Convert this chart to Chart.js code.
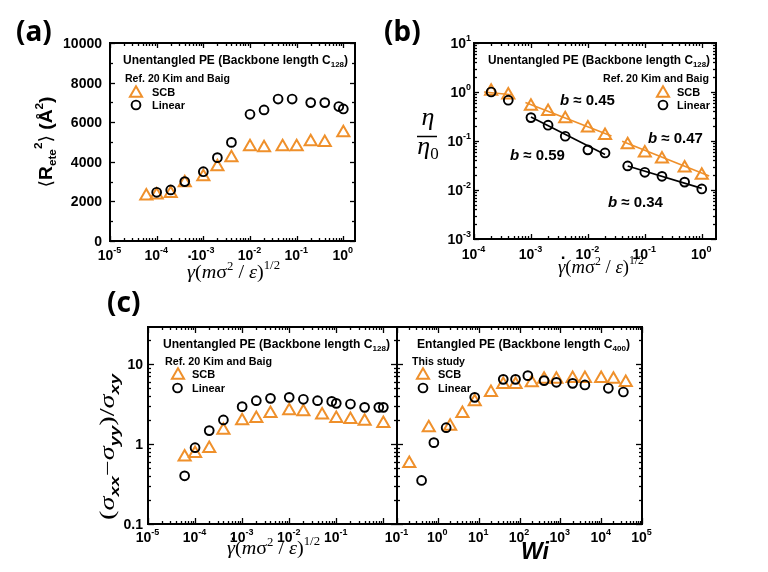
<!DOCTYPE html>
<html><head><meta charset="utf-8">
<script src="https://cdn.jsdelivr.net/npm/chart.js@4.4.1/dist/chart.umd.min.js"></script>
<style>
html,body{margin:0;padding:0;background:#fff}
#wrap{position:relative;width:768px;height:572px;overflow:hidden;background:#fff}
canvas{position:absolute;left:0;top:0}
</style>
</head><body>
<div id="wrap">
<canvas id="ca" width="768" height="572"></canvas>
<canvas id="cb" width="768" height="572"></canvas>
<canvas id="cc1" width="768" height="572"></canvas>
<canvas id="cc2" width="768" height="572"></canvas>
</div>
<script>
const SANS = "'Liberation Sans', Arial, Helvetica, sans-serif";
const SERIF = "'Liberation Serif', 'Times New Roman', serif";
const LABF = "'Noto Sans', 'Open Sans', " + SANS;
const ORANGE = '#EF902B';

// ---------- Panel (a): <Rete^2> vs shear rate ----------
const aRateSCB = [6e-5, 1e-4, 2e-4, 4e-4, 1e-3, 2e-3, 4e-3, 1e-2, 2e-2, 5e-2, 1e-1, 2e-1, 4e-1, 1];
const aRSCB    = [2270, 2320, 2400, 2940, 3240, 3750, 4200, 4760, 4710, 4760, 4760, 5010, 4980, 5470];
const aRateLin = [1e-4, 2e-4, 4e-4, 1e-3, 2e-3, 4e-3, 1e-2, 2e-2, 4e-2, 8e-2, 2e-1, 4e-1, 8e-1, 1];
const aRLin    = [2460, 2580, 3000, 3500, 4210, 4980, 6400, 6620, 7170, 7170, 6990, 6990, 6790, 6670];
const aXExps   = [-5, -4, -3, -2, -1, 0];
const aYTicks  = [0, 2000, 4000, 6000, 8000, 10000];

// ---------- Panel (b): eta/eta0 vs shear rate ----------
const bRateSCB = [2e-4, 4e-4, 1e-3, 2e-3, 4e-3, 1e-2, 2e-2, 5e-2, 1e-1, 2e-1, 5e-1, 1];
const bEtaSCB  = [1.03, 0.87, 0.51, 0.40, 0.285, 0.184, 0.13, 0.084, 0.057, 0.043, 0.028, 0.020];
const bRateLin = [2e-4, 4e-4, 1e-3, 2e-3, 4e-3, 1e-2, 2e-2, 5e-2, 1e-1, 2e-1, 5e-1, 1];
const bEtaLin  = [1.0, 0.68, 0.30, 0.21, 0.125, 0.066, 0.057, 0.031, 0.023, 0.019, 0.0145, 0.0105];
const bFitSCB0 = [[1.5e-4, 1.0], [4.6e-4, 0.88]];
const bFitSCB1 = [[8e-4, 0.61], [2.6e-2, 0.127]];
const bFitSCB2 = [[4e-2, 0.099], [1.35, 0.0193]];
const bFitLin1 = [[1e-3, 0.31], [2e-2, 0.053]];
const bFitLin2 = [[5e-2, 0.031], [1, 0.0108]];
const bSlopes  = ['0.45', '0.59', '0.47', '0.34'];
const bXExps   = [-4, -3, -2, -1, 0];
const bYExps   = [1, 0, -1, -2, -3];

// ---------- Panel (c) left: normal stress ratio vs shear rate ----------
const cRateSCB  = [6e-5, 1e-4, 2e-4, 4e-4, 1e-3, 2e-3, 4e-3, 1e-2, 2e-2, 5e-2, 1e-1, 2e-1, 4e-1, 1];
const cRatSCB   = [0.69, 0.76, 0.88, 1.49, 1.95, 2.09, 2.41, 2.60, 2.53, 2.30, 2.09, 2.02, 1.93, 1.80];
const cRateLin  = [6e-5, 1e-4, 2e-4, 4e-4, 1e-3, 2e-3, 4e-3, 1e-2, 2e-2, 4e-2, 8e-2, 1e-1, 2e-1, 4e-1, 8e-1, 1];
const cRatLin   = [0.40, 0.90, 1.47, 2.0, 2.93, 3.48, 3.72, 3.83, 3.62, 3.48, 3.41, 3.22, 3.16, 2.87, 2.87, 2.87];
const cXExpsL   = [-5, -4, -3, -2, -1];
const cYTicks   = [0.1, 1, 10];
const cYLabels  = ['0.1', '1', '10'];

// ---------- Panel (c) right: normal stress ratio vs Wi ----------
const cWiSCB    = [0.2, 0.6, 2, 4, 8, 20, 40, 80, 200, 400, 800, 2000, 4000, 10000, 20000, 40000];
const cRatSCB2  = [0.57, 1.60, 1.67, 2.41, 3.37, 4.41, 5.55, 5.55, 5.82, 6.46, 6.46, 6.6, 6.6, 6.6, 6.46, 5.89];
const cWiLin    = [0.4, 0.8, 1.6, 8, 40, 80, 160, 400, 800, 2000, 4000, 15000, 35000];
const cRatLin2  = [0.35, 1.04, 1.6, 3.83, 6.43, 6.43, 7.15, 6.2, 5.9, 5.73, 5.47, 4.97, 4.47];
const cXExpsR   = [-1, 0, 1, 2, 3, 4, 5];

// ---------- helpers ----------
function P(xs, ys) { return xs.map((x, i) => ({ x: x, y: ys[i] })); }
function S(pairs) { return pairs.map(p => ({ x: p[0], y: p[1] })); }
function scb(data) {
  return { data: data, showLine: false, pointStyle: 'triangle', pointRadius: 7,
    pointBorderColor: ORANGE, pointBackgroundColor: 'rgba(0,0,0,0)', pointBorderWidth: 2,
    borderColor: ORANGE, backgroundColor: 'rgba(0,0,0,0)', clip: false };
}
function lin(data) {
  return { data: data, showLine: false, pointStyle: 'circle', pointRadius: 4.4,
    pointBorderColor: '#000', pointBackgroundColor: 'rgba(0,0,0,0)', pointBorderWidth: 1.9,
    borderColor: '#000', backgroundColor: 'rgba(0,0,0,0)', clip: false };
}
function fit(data, color) {
  return { data: data, showLine: true, pointRadius: 0, borderColor: color, borderWidth: 1.6,
    backgroundColor: color, clip: false };
}
function ln(ctx, x1, y1, x2, y2) { ctx.beginPath(); ctx.moveTo(x1, y1); ctx.lineTo(x2, y2); ctx.stroke(); }
function logList(min, max) {
  const out = [];
  for (let d = Math.floor(Math.log10(min)) - 1; d <= Math.ceil(Math.log10(max)); d++)
    for (let m = 1; m < 10; m++) {
      const v = m * Math.pow(10, d);
      if (v >= min * 0.9999 && v <= max * 1.0001) out.push({ v: v, major: m === 1 });
    }
  return out;
}
function linList(min, max, step, majorEvery) {
  const out = [];
  for (let v = min; v <= max + 1e-9; v += step) out.push({ v: v, major: Math.round(v / step) % majorEvery === 0 });
  return out;
}
function frame(chart, xt, yt, sides, Lmaj, Lmin) {
  const ctx = chart.ctx, a = chart.chartArea, xs = chart.scales.x, ys = chart.scales.y;
  ctx.save(); ctx.strokeStyle = '#000'; ctx.lineWidth = 1.3;
  xt.forEach(t => {
    const x = Math.round(xs.getPixelForValue(t.v)) + 0.5, L = t.major ? Lmaj : Lmin;
    if (sides.b) ln(ctx, x, a.bottom, x, a.bottom - L);
    if (sides.t) ln(ctx, x, a.top, x, a.top + L);
  });
  yt.forEach(t => {
    const y = Math.round(ys.getPixelForValue(t.v)) + 0.5, L = t.major ? Lmaj : Lmin;
    if (sides.l) ln(ctx, a.left, y, a.left + L, y);
    if (sides.r) ln(ctx, a.right, y, a.right - L, y);
  });
  ctx.lineWidth = 2; ctx.strokeRect(a.left, a.top, a.right - a.left, a.bottom - a.top);
  ctx.restore();
}
function rich(ctx, x, y, segs, opt) {
  opt = opt || {};
  ctx.save();
  let w = 0;
  const ws = segs.map(s => { ctx.font = s.f; const m = ctx.measureText(s.t).width; w += m; return m; });
  const sx = opt.width ? opt.width / w : 1;
  ctx.translate(x, y);
  if (opt.rot) ctx.rotate(opt.rot);
  ctx.scale(sx, 1);
  let cx = opt.align === 'center' ? -w / 2 : (opt.align === 'right' ? -w : 0);
  ctx.textAlign = 'left'; ctx.textBaseline = 'alphabetic';
  segs.forEach((s, i) => { ctx.font = s.f; ctx.fillStyle = s.c || '#000'; ctx.fillText(s.t, cx, s.dy || 0); cx += ws[i]; });
  ctx.restore();
}
function expLab(ctx, x, base, e, align) {
  rich(ctx, x, base, [{ t: '10', f: 'bold 14px ' + SANS }, { t: String(e), f: 'bold 9px ' + SANS, dy: -7 }], { align: align });
}
function xExpLabels(chart, exps, base) {
  exps.forEach(e => expLab(chart.ctx, chart.scales.x.getPixelForValue(Math.pow(10, e)) - 0.5, base, e, 'center'));
}
function yExpLabels(chart, exps, right) {
  exps.forEach(e => expLab(chart.ctx, right, chart.scales.y.getPixelForValue(Math.pow(10, e)) + 5, e, 'right'));
}
function triIcon(ctx, cx, cy) {
  const r = 7; ctx.save(); ctx.strokeStyle = ORANGE; ctx.lineWidth = 2; ctx.beginPath();
  ctx.moveTo(cx, cy - 0.75 * r); ctx.lineTo(cx + 0.866 * r, cy + 0.75 * r); ctx.lineTo(cx - 0.866 * r, cy + 0.75 * r);
  ctx.closePath(); ctx.stroke(); ctx.restore();
}
function cirIcon(ctx, cx, cy) {
  ctx.save(); ctx.strokeStyle = '#000'; ctx.lineWidth = 1.9; ctx.beginPath(); ctx.arc(cx, cy, 4.4, 0, Math.PI * 2); ctx.stroke(); ctx.restore();
}
function txt(ctx, s, x, y, font, align) {
  ctx.save(); ctx.font = font; ctx.fillStyle = '#000'; ctx.textAlign = align || 'left'; ctx.textBaseline = 'alphabetic';
  ctx.fillText(s, x, y); ctx.restore();
}
function legendBlock(ctx, title, sub, ref, L) {
  rich(ctx, L.tx, L.ty + 4.3, [
    { t: title, f: 'bold 12px ' + SANS }, { t: sub, f: 'bold 8px ' + SANS, dy: 3 }, { t: ')', f: 'bold 12px ' + SANS }
  ], { width: L.tw });
  rich(ctx, L.rx, L.ry + 3.8, [{ t: ref, f: 'bold 10.5px ' + SANS }], { width: L.rw, align: L.ralign || 'left' });
  triIcon(ctx, L.ix1, L.iy1); cirIcon(ctx, L.ix2, L.iy2);
  txt(ctx, 'SCB', L.lx, L.iy1 + 4, 'bold 11px ' + SANS);
  txt(ctx, 'Linear', L.lx, L.iy2 + 4, 'bold 11px ' + SANS);
}
function rateTitle(ctx, x, base, w, dotX, dotY) {
  rich(ctx, x, base, [
    { t: 'γ', f: 'italic 19px ' + SERIF }, { t: '(', f: '19px ' + SERIF }, { t: 'm', f: 'italic 19px ' + SERIF },
    { t: 'σ', f: '19px ' + SERIF }, { t: '2', f: '12px ' + SERIF, dy: -8 }, { t: ' / ', f: '19px ' + SERIF },
    { t: 'ε', f: 'italic 19px ' + SERIF }, { t: ')', f: '19px ' + SERIF }, { t: '1/2', f: '12px ' + SERIF, dy: -9 }
  ], { width: w });
  txt(ctx, '.', dotX, dotY + 2, 'bold 17px ' + SANS, 'center');
}
function makeChart(id, area, xsc, ysc, datasets, before, after) {
  return new Chart(document.getElementById(id), {
    type: 'scatter',
    data: { datasets: datasets },
    options: {
      responsive: false, animation: false, events: [], devicePixelRatio: 1,
      layout: { padding: { left: area[0], top: area[1], right: 768 - area[2], bottom: 572 - area[3] } },
      plugins: { legend: { display: false }, tooltip: { enabled: false }, title: { display: false } },
      scales: {
        x: Object.assign({ display: false }, xsc),
        y: Object.assign({ display: false }, ysc)
      }
    },
    plugins: [{ id: 'decor', beforeDatasetsDraw: before, afterDraw: after }]
  });
}

// ---------- (a) ----------
const aX = { type: 'logarithmic', min: 1e-5, max: Math.pow(10, 0.25) };
const aY = { type: 'linear', min: 0, max: 10000 };
makeChart('ca', [110, 43, 355, 241], aX, aY,
  [lin(P(aRateLin, aRLin)), scb(P(aRateSCB, aRSCB))],
  function (chart) {
    frame(chart, logList(aX.min, aX.max), linList(0, 10000, 1000, 2), { b: 1, t: 1, l: 1, r: 1 }, 5, 3);
  },
  function (chart) {
    const ctx = chart.ctx;
    xExpLabels(chart, aXExps, 260);
    aYTicks.forEach(v => txt(ctx, String(v), 102, chart.scales.y.getPixelForValue(v) + 5, 'bold 14px ' + SANS, 'right'));
    legendBlock(ctx, 'Unentangled PE (Backbone length C', '128', 'Ref. 20 Kim and Baig',
      { tx: 123, ty: 60, tw: 225, rx: 125, ry: 78, rw: 105, ix1: 136, iy1: 91.5, ix2: 136, iy2: 105, lx: 152 });
    rateTitle(ctx, 187, 278, 93, 189.5, 256);
    rich(ctx, 52, 142, [
      { t: '⟨', f: '18px ' + "'DejaVu Sans', " + SANS }, { t: 'R', f: 'bold 18px ' + SANS },
      { t: 'ete', f: 'bold 11px ' + SANS, dy: 4 }, { t: '2', f: 'bold 11px ' + SANS, dy: -10 },
      { t: '⟩', f: '18px ' + "'DejaVu Sans', " + SANS }, { t: ' (Å', f: 'bold 18px ' + SANS },
      { t: '2', f: 'bold 11px ' + SANS, dy: -9 }, { t: ')', f: 'bold 18px ' + SANS }
    ], { rot: -Math.PI / 2, align: 'center', width: 91 });
    txt(ctx, '(a)', 16, 41, 'bold 28px ' + LABF);
  });

// ---------- (b) ----------
const bX = { type: 'logarithmic', min: 1e-4, max: Math.pow(10, 0.25) };
const bY = { type: 'logarithmic', min: 1e-3, max: 10 };
makeChart('cb', [474, 43, 716, 239], bX, bY,
  [lin(P(bRateLin, bEtaLin)), scb(P(bRateSCB, bEtaSCB)),
   fit(S(bFitSCB0), ORANGE), fit(S(bFitSCB1), ORANGE), fit(S(bFitSCB2), ORANGE),
   fit(S(bFitLin1), '#000'), fit(S(bFitLin2), '#000')],
  function (chart) {
    frame(chart, logList(bX.min, bX.max), logList(bY.min, bY.max), { b: 1, t: 1, l: 1, r: 1 }, 5, 3);
  },
  function (chart) {
    const ctx = chart.ctx;
    xExpLabels(chart, bXExps, 259);
    yExpLabels(chart, bYExps, 471);
    legendBlock(ctx, 'Unentangled PE (Backbone length C', '128', 'Ref. 20 Kim and Baig',
      { tx: 488, ty: 60, tw: 222, rx: 709, ry: 78, rw: 106, ralign: 'right', ix1: 663, iy1: 91.5, ix2: 663, iy2: 105, lx: 677 });
    const bPos = [[560, 100], [510, 155], [648, 138], [608, 202]];
    bSlopes.forEach((s, i) => rich(ctx, bPos[i][0], bPos[i][1] + 5.4, [
      { t: 'b', f: 'bold italic 15px ' + SANS }, { t: ' ≈ ' + s, f: 'bold 15px ' + SANS }]));
    rateTitle(ctx, 558, 273, 86, 563, 257);
    rich(ctx, 428, 125, [{ t: 'η', f: 'italic 26px ' + SERIF }], { align: 'center' });
    ctx.save(); ctx.strokeStyle = '#000'; ctx.lineWidth = 1.5; ln(ctx, 417, 136.5, 437, 136.5); ctx.restore();
    rich(ctx, 428, 154, [{ t: 'η', f: 'italic 26px ' + SERIF }, { t: '0', f: '17px ' + SERIF, dy: 5 }], { align: 'center' });
    txt(ctx, '(b)', 384, 41, 'bold 28px ' + LABF);
  });

// ---------- (c) left ----------
const cY = { type: 'logarithmic', min: 0.1, max: Math.pow(10, 1.4625) };
const cXL = { type: 'logarithmic', min: 1e-5, max: Math.pow(10, 0.29) };
makeChart('cc1', [148, 327, 397, 524], cXL, cY,
  [lin(P(cRateLin, cRatLin)), scb(P(cRateSCB, cRatSCB))],
  function (chart) {
    frame(chart, logList(cXL.min, cXL.max), logList(cY.min, cY.max), { b: 1, t: 1, l: 1, r: 1 }, 6, 3);
  },
  function (chart) {
    const ctx = chart.ctx;
    xExpLabels(chart, cXExpsL, 542);
    cYTicks.forEach((v, i) => txt(ctx, cYLabels[i], 143, chart.scales.y.getPixelForValue(v) + 5, 'bold 14px ' + SANS, 'right'));
    legendBlock(ctx, 'Unentangled PE (Backbone length C', '128', 'Ref. 20 Kim and Baig',
      { tx: 163, ty: 343.5, tw: 227, rx: 165, ry: 361.5, rw: 107, ix1: 178, iy1: 373.5, ix2: 177.5, iy2: 388, lx: 192 });
    rateTitle(ctx, 227, 554, 93, 233, 538);
    const sub = 'bold italic 13px ' + SANS, big = '20px ' + SERIF, bigI = 'italic 20px ' + SERIF;
    rich(ctx, 114, 447, [
      { t: '(', f: big }, { t: 'σ', f: bigI }, { t: 'xx', f: sub, dy: 5 }, { t: '−', f: big },
      { t: 'σ', f: bigI }, { t: 'yy', f: sub, dy: 5 }, { t: ')/', f: big }, { t: 'σ', f: bigI }, { t: 'xy', f: sub, dy: 5 }
    ], { rot: -Math.PI / 2, align: 'center', width: 146 });
    txt(ctx, '(c)', 107, 312, 'bold 28px ' + LABF);
  });

// ---------- (c) right ----------
const cXR = { type: 'logarithmic', min: 0.1, max: 1e5 };
makeChart('cc2', [397, 327, 642, 524], cXR, cY,
  [lin(P(cWiLin, cRatLin2)), scb(P(cWiSCB, cRatSCB2))],
  function (chart) {
    frame(chart, logList(cXR.min, cXR.max), logList(cY.min, cY.max), { b: 1, t: 1, l: 1, r: 1 }, 6, 3);
  },
  function (chart) {
    const ctx = chart.ctx;
    xExpLabels(chart, cXExpsR, 542);
    legendBlock(ctx, 'Entangled PE (Backbone length C', '400', 'This study',
      { tx: 417, ty: 343.5, tw: 213, rx: 412, ry: 361.5, rw: 53, ix1: 423, iy1: 373.5, ix2: 423, iy2: 388, lx: 438 });
    txt(ctx, 'Wi', 535, 559, 'bold italic 23px ' + SANS, 'center');
  });
</script>
</body></html>
